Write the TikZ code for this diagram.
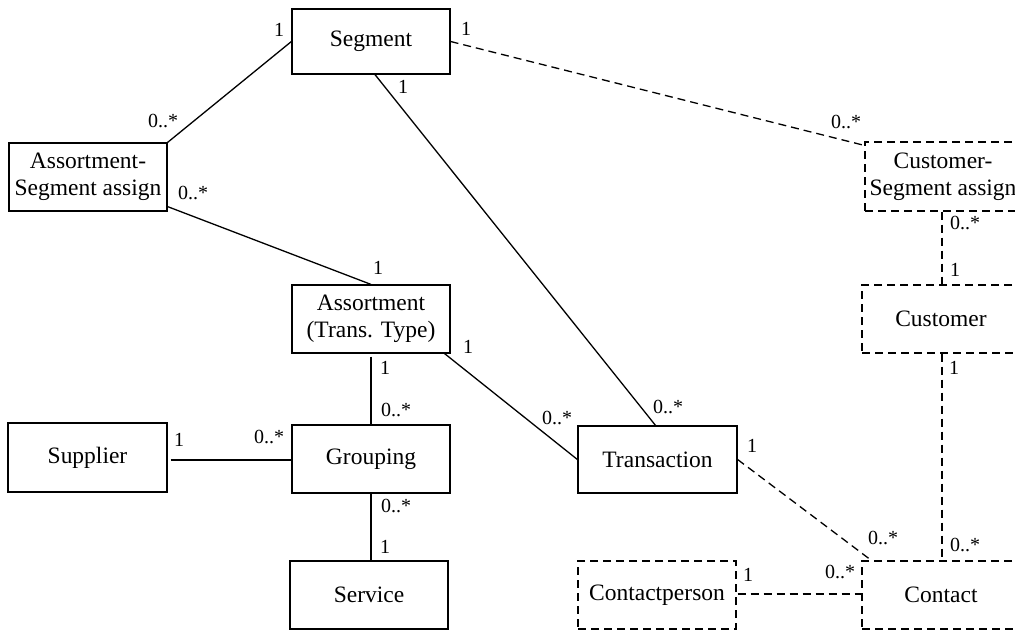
\documentclass[tikz,border=0pt]{standalone}
\usepackage{fontspec}
\setmainfont{Liberation Serif}
\usetikzlibrary{calc}
\begin{document}
\begin{tikzpicture}[x=1pt,y=-1pt,
  ent/.style={draw, line width=1.2pt, minimum width=158pt, minimum height=68pt, inner sep=0pt, align=center, font=\fontsize{23.5}{27}\selectfont},
  dent/.style={ent, dash pattern=on 8pt off 5pt},
  lbl/.style={inner sep=0pt, font=\fontsize{20}{22}\selectfont},
  rel/.style={line width=1.3pt},
  drel/.style={rel, dash pattern=on 8pt off 5pt}]
\useasboundingbox (0,0) rectangle (1015,630);
% entities
\node[ent, minimum height=65pt] (seg) at (371,41.5) {Segment};
\node[ent] (asa) at (88,177) {Assortment-\\Segment assign};
\node[ent] (ass) at (371,319) {Assortment\\(Trans. Type)};
\node[ent, minimum width=159pt, minimum height=69pt] (sup) at (87.5,457.5) {Supplier};
\node[ent] (grp) at (371,459) {Grouping};
\node[ent] (srv) at (369,595) {Service};
\node[ent, minimum width=159pt, minimum height=67pt] (trn) at (657.5,459.5) {Transaction};
\node[dent] (cp) at (657,595) {Contactperson};
\node[dent] (con) at (941,595) {Contact};
\node[dent] (cus) at (941,319) {Customer};
\node[dent, minimum width=156pt, minimum height=69pt] (csa) at (943,176.5) {Customer-\\Segment assign};
% connectors
\draw[rel] (seg.west) -- (asa.north east);
\draw[rel] ($(asa.south east)+(0,-5)$) -- (ass.north);
\draw[rel] ($(seg.south)+(4,0)$) -- ($(trn.north)+(-2,0)$);
\draw[drel] (seg.east) -- ($(csa.north west)+(0,4)$);
\draw[drel] ($(csa.south)+(-1,0)$) -- ($(cus.north)+(1,0)$);
\draw[drel] ($(cus.south)+(1,0)$) -- ($(con.north)+(1,0)$);
\draw[rel] ($(ass.south)+(0,3)$) -- (grp.north);
\draw[rel] ($(ass.south east)+(-6,0)$) -- (trn.west);
\draw[rel] ($(sup.east)+(3,2.5)$) -- ($(grp.west)+(0,1)$);
\draw[rel] (grp.south) -- (grp.south |- srv.north);
\draw[drel] (trn.east) -- ($(con.north west)+(10,0)$);
\draw[drel] ($(cp.east)+(1,-1)$) -- ($(con.west)+(0,-1)$);
% multiplicities
\node[lbl] (l1) at (279,30) {1};
\node[lbl] (l2) at (163,121) {0..*};
\node[lbl] (l3) at (193,193) {0..*};
\node[lbl] (l4) at (378,268) {1};
\node[lbl] (l5) at (403,87) {1};
\node[lbl] (l6) at (668,407) {0..*};
\node[lbl] (l7) at (466,29) {1};
\node[lbl] (l8) at (846,122) {0..*};
\node[lbl] (l9) at (965,223) {0..*};
\node[lbl] (l10) at (955,270) {1};
\node[lbl] (l11) at (954,368) {1};
\node[lbl] (l12) at (965,545) {0..*};
\node[lbl] (l13) at (385,368) {1};
\node[lbl] (l14) at (396,410) {0..*};
\node[lbl] (l15) at (468,347) {1};
\node[lbl] (l16) at (557,418) {0..*};
\node[lbl] (l17) at (179,440) {1};
\node[lbl] (l18) at (269,437) {0..*};
\node[lbl] (l19) at (396,506) {0..*};
\node[lbl] (l20) at (385,547) {1};
\node[lbl] (l21) at (752,446) {1};
\node[lbl] (l22) at (883,538) {0..*};
\node[lbl] (l23) at (748,575) {1};
\node[lbl] (l24) at (840,572) {0..*};
\end{tikzpicture}
\end{document}
